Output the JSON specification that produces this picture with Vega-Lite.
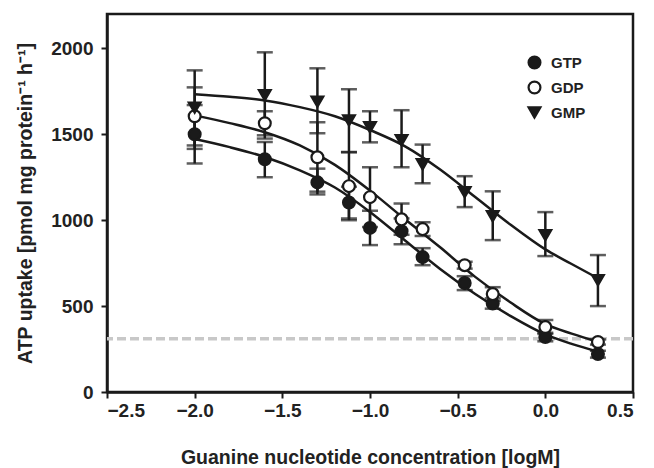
{
  "$schema": "https://vega.github.io/schema/vega-lite/v6.json",
  "width": 526,
  "height": 378,
  "autosize": "none",
  "padding": {"left": 107, "top": 14, "right": 21, "bottom": 76},
  "background": "white",
  "config": {
    "font": "Liberation Sans",
    "view": {"stroke": "#1a1a1a", "strokeWidth": 2.5},
    "axis": {
      "grid": false,
      "domainColor": "#1a1a1a",
      "domainWidth": 2.5,
      "tickColor": "#1a1a1a",
      "tickWidth": 2,
      "tickSize": 6,
      "labelFont": "Liberation Sans",
      "labelFontWeight": "bold",
      "labelFontSize": 19,
      "labelColor": "#222222",
      "titleFont": "Liberation Sans",
      "titleFontWeight": "bold",
      "titleFontSize": 19.5,
      "titleColor": "#222222"
    },
    "legend": {
      "labelFontSize": 15,
      "labelFontWeight": "bold",
      "labelColor": "#222222",
      "labelOffset": 9,
      "rowPadding": 4,
      "symbolSize": 140,
      "symbolStrokeWidth": 2.2,
      "padding": 0
    }
  },
  "datasets": {
    "pts": [
      {"series": "GTP", "x": -2.0, "y": 1500, "lo": 1330, "hi": 1670},
      {"series": "GTP", "x": -1.6, "y": 1355, "lo": 1250, "hi": 1455},
      {"series": "GTP", "x": -1.3, "y": 1220, "lo": 1150, "hi": 1300},
      {"series": "GTP", "x": -1.12, "y": 1103, "lo": 1010, "hi": 1195},
      {"series": "GTP", "x": -1.0, "y": 955, "lo": 855, "hi": 1055},
      {"series": "GTP", "x": -0.82, "y": 936, "lo": 860, "hi": 1010},
      {"series": "GTP", "x": -0.7, "y": 785, "lo": 738, "hi": 837},
      {"series": "GTP", "x": -0.46, "y": 634, "lo": 593, "hi": 674},
      {"series": "GTP", "x": -0.3, "y": 515, "lo": 485, "hi": 545},
      {"series": "GTP", "x": 0.0, "y": 320, "lo": 295, "hi": 345},
      {"series": "GTP", "x": 0.3, "y": 221, "lo": 200, "hi": 240},
      {"series": "GDP", "x": -2.0, "y": 1605, "lo": 1435, "hi": 1773},
      {"series": "GDP", "x": -1.6, "y": 1564, "lo": 1494, "hi": 1634},
      {"series": "GDP", "x": -1.3, "y": 1366, "lo": 1166, "hi": 1570},
      {"series": "GDP", "x": -1.12, "y": 1198, "lo": 1000, "hi": 1397},
      {"series": "GDP", "x": -1.0, "y": 1134, "lo": 960, "hi": 1308},
      {"series": "GDP", "x": -0.82, "y": 1005, "lo": 915, "hi": 1097},
      {"series": "GDP", "x": -0.7, "y": 948, "lo": 908, "hi": 988},
      {"series": "GDP", "x": -0.46, "y": 738, "lo": 718, "hi": 758},
      {"series": "GDP", "x": -0.3, "y": 570, "lo": 530, "hi": 610},
      {"series": "GDP", "x": 0.0, "y": 378, "lo": 338, "hi": 419},
      {"series": "GDP", "x": 0.3, "y": 291, "lo": 276, "hi": 306},
      {"series": "GMP", "x": -2.0, "y": 1655, "lo": 1415, "hi": 1872},
      {"series": "GMP", "x": -1.6, "y": 1727, "lo": 1475, "hi": 1977},
      {"series": "GMP", "x": -1.3, "y": 1690, "lo": 1506, "hi": 1884},
      {"series": "GMP", "x": -1.12, "y": 1581, "lo": 1395, "hi": 1762},
      {"series": "GMP", "x": -1.0, "y": 1541, "lo": 1453, "hi": 1634},
      {"series": "GMP", "x": -0.82, "y": 1465, "lo": 1308, "hi": 1640},
      {"series": "GMP", "x": -0.7, "y": 1325, "lo": 1215, "hi": 1440},
      {"series": "GMP", "x": -0.46, "y": 1163, "lo": 1076, "hi": 1256},
      {"series": "GMP", "x": -0.3, "y": 1023, "lo": 884, "hi": 1168},
      {"series": "GMP", "x": 0.0, "y": 913, "lo": 791, "hi": 1047},
      {"series": "GMP", "x": 0.3, "y": 651, "lo": 500, "hi": 797}
    ],
    "curves": [
      {"series": "GTP", "x": -2.0, "y": 1472},
      {"series": "GTP", "x": -1.8, "y": 1425},
      {"series": "GTP", "x": -1.6, "y": 1368},
      {"series": "GTP", "x": -1.4, "y": 1290},
      {"series": "GTP", "x": -1.2, "y": 1190},
      {"series": "GTP", "x": -1.0, "y": 1048},
      {"series": "GTP", "x": -0.8, "y": 882},
      {"series": "GTP", "x": -0.6, "y": 716},
      {"series": "GTP", "x": -0.4, "y": 570},
      {"series": "GTP", "x": -0.2, "y": 443},
      {"series": "GTP", "x": 0.0, "y": 335},
      {"series": "GTP", "x": 0.15, "y": 280},
      {"series": "GTP", "x": 0.3, "y": 235},
      {"series": "GDP", "x": -2.0, "y": 1610},
      {"series": "GDP", "x": -1.8, "y": 1565},
      {"series": "GDP", "x": -1.6, "y": 1512},
      {"series": "GDP", "x": -1.4, "y": 1435},
      {"series": "GDP", "x": -1.2, "y": 1322},
      {"series": "GDP", "x": -1.0, "y": 1172},
      {"series": "GDP", "x": -0.8, "y": 1005},
      {"series": "GDP", "x": -0.6, "y": 842},
      {"series": "GDP", "x": -0.4, "y": 670},
      {"series": "GDP", "x": -0.2, "y": 522},
      {"series": "GDP", "x": 0.0, "y": 395},
      {"series": "GDP", "x": 0.15, "y": 340},
      {"series": "GDP", "x": 0.3, "y": 292},
      {"series": "GMP", "x": -2.0, "y": 1733},
      {"series": "GMP", "x": -1.8, "y": 1718},
      {"series": "GMP", "x": -1.6, "y": 1697},
      {"series": "GMP", "x": -1.4, "y": 1658},
      {"series": "GMP", "x": -1.2, "y": 1605},
      {"series": "GMP", "x": -1.0, "y": 1525},
      {"series": "GMP", "x": -0.8, "y": 1430},
      {"series": "GMP", "x": -0.6, "y": 1295},
      {"series": "GMP", "x": -0.4, "y": 1135},
      {"series": "GMP", "x": -0.2, "y": 975},
      {"series": "GMP", "x": 0.0, "y": 830},
      {"series": "GMP", "x": 0.15, "y": 745},
      {"series": "GMP", "x": 0.3, "y": 662}
    ],
    "ref": [{"y": 310}]
  },
  "layer": [
    {
      "data": {"name": "ref"},
      "mark": {"type": "rule", "color": "#c8c8c8", "strokeWidth": 3.5, "strokeDash": [9, 4]},
      "encoding": {"y": {"field": "y", "type": "quantitative", "title": "ATP uptake [pmol mg protein⁻¹ h⁻¹]"}}
    },
    {
      "data": {"name": "curves"},
      "mark": {"type": "line", "color": "#1a1a1a", "strokeWidth": 2.5, "interpolate": "monotone"},
      "encoding": {
        "x": {"field": "x", "type": "quantitative", "title": "Guanine nucleotide concentration [logM]"},
        "y": {"field": "y", "type": "quantitative", "title": "ATP uptake [pmol mg protein⁻¹ h⁻¹]"},
        "detail": {"field": "series"}
      }
    },
    {
      "data": {"name": "pts"},
      "mark": {"type": "errorbar", "ticks": {"size": 16, "thickness": 2.5, "color": "#1a1a1a"}, "rule": {"strokeWidth": 2.5, "color": "#1a1a1a"}},
      "encoding": {
        "x": {"field": "x", "type": "quantitative", "title": "Guanine nucleotide concentration [logM]"},
        "y": {"field": "lo", "type": "quantitative", "title": "ATP uptake [pmol mg protein⁻¹ h⁻¹]"},
        "y2": {"field": "hi"},
        "detail": {"field": "series"}
      }
    },
    {
      "data": {"name": "pts"},
      "mark": {"type": "point", "filled": true, "size": 140, "strokeWidth": 2.2, "opacity": 1},
      "encoding": {
        "x": {
          "field": "x", "type": "quantitative",
          "scale": {"domain": [-2.5, 0.5], "nice": false, "zero": false},
          "axis": {"title": "Guanine nucleotide concentration [logM]", "values": [-2.5, -2.0, -1.5, -1.0, -0.5, 0.0, 0.5], "format": ".1f", "labelPadding": 3, "titlePadding": 28}
        },
        "y": {
          "field": "y", "type": "quantitative",
          "scale": {"domain": [0, 2200], "nice": false},
          "axis": {"title": "ATP uptake [pmol mg protein⁻¹ h⁻¹]", "values": [0, 500, 1000, 1500, 2000], "format": "d", "labelPadding": 8, "titlePadding": 15}
        },
        "shape": {
          "field": "series", "type": "nominal",
          "scale": {"domain": ["GTP", "GDP", "GMP"], "range": ["circle", "circle", "triangle-down"]},
          "legend": {"title": null, "orient": "none", "legendX": 420, "legendY": 41}
        },
        "fill": {
          "field": "series", "type": "nominal",
          "scale": {"domain": ["GTP", "GDP", "GMP"], "range": ["#1a1a1a", "white", "#1a1a1a"]},
          "legend": {"title": null, "orient": "none", "legendX": 420, "legendY": 41}
        },
        "stroke": {
          "field": "series", "type": "nominal",
          "scale": {"domain": ["GTP", "GDP", "GMP"], "range": ["#1a1a1a", "#1a1a1a", "#1a1a1a"]},
          "legend": {"title": null, "orient": "none", "legendX": 420, "legendY": 41}
        }
      }
    }
  ]
}
